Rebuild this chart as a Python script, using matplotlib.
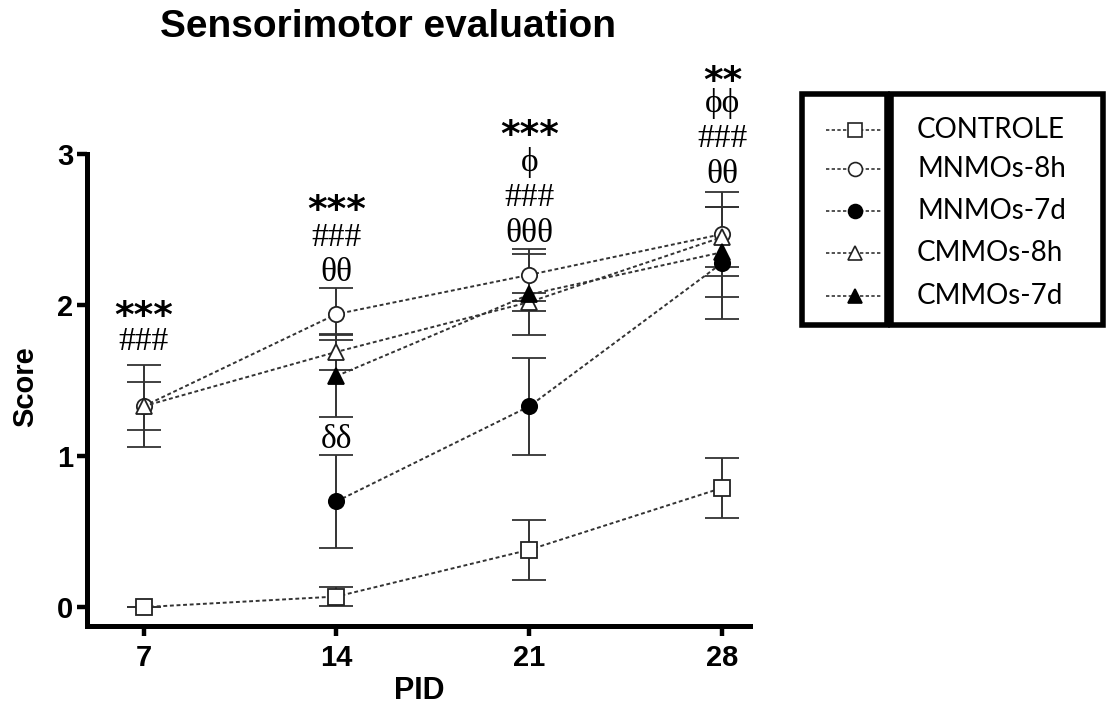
import matplotlib
matplotlib.use("Agg")
import matplotlib.pyplot as plt
import numpy as np
from matplotlib.patches import Rectangle

# days post induction
pid = [7, 14, 21, 28]

# mean score and error per group (nan = not measured)
controle = [0.0, 0.07, 0.38, 0.79]
controle_err = [0.0, 0.06, 0.20, 0.20]
mnmos_8h = [1.33, 1.94, 2.20, 2.47]
mnmos_8h_err = [0.16, 0.17, 0.17, 0.28]
mnmos_7d = [np.nan, 0.70, 1.33, 2.28]
mnmos_7d_err = [np.nan, 0.31, 0.32, 0.37]
cmmos_8h = [1.33, 1.69, 2.02, 2.45]
cmmos_8h_err = [0.27, 0.12, 0.06, 0.20]
cmmos_7d = [np.nan, 1.53, 2.07, 2.35]
cmmos_7d_err = [np.nan, 0.27, 0.27, 0.30]

labels = ["CONTROLE", "MNMOs-8h", "MNMOs-7d", "CMMOs-8h", "CMMOs-7d"]

# significance marks
star_marks = [(7, 1.92, "***"), (14, 2.62, "***"), (21, 3.12, "***"), (28, 3.48, "**")]
greek_marks = [(7, 1.76, "###"), (14, 2.33, "###\nθθ"), (21, 2.71, "ϕ\n###\nθθθ"),
               (28, 3.10, "ϕϕ\n###\nθθ"), (14, 1.11, "δδ")]

plt.rcParams["font.family"] = ["Liberation Sans", "DejaVu Sans"]

fig = plt.figure(figsize=(11.06, 7.08), dpi=100)
ax = fig.add_axes([87 / 1106, 1 - 626 / 708, (750 - 87) / 1106, (626 - 154) / 708])

styles = [
    dict(marker="s", mfc="white", mec="#222222"),
    dict(marker="o", mfc="white", mec="#222222"),
    dict(marker="o", mfc="black", mec="black"),
    dict(marker="^", mfc="white", mec="#222222"),
    dict(marker="^", mfc="black", mec="black"),
]
series = [(controle, controle_err), (mnmos_8h, mnmos_8h_err), (mnmos_7d, mnmos_7d_err),
          (cmmos_8h, cmmos_8h_err), (cmmos_7d, cmmos_7d_err)]

dash = (0, (2, 1.4))
for (vals, err), st in zip(series, styles):
    ax.errorbar(pid, vals, yerr=err, color="#333333", ls=dash, lw=1.4,
                ms=11, mew=1.3, elinewidth=1.4, capsize=12, capthick=1.4,
                ecolor="#333333", **st)

for x, y, txt in star_marks:
    ax.text(x, y, txt, ha="center", va="center", fontsize=27, fontweight="bold",
            family="DejaVu Sans", clip_on=False)
for x, y, txt in greek_marks:
    ax.text(x, y, txt, ha="center", va="center", fontsize=24, linespacing=1.2,
            family=["Liberation Serif", "DejaVu Serif"], clip_on=False)

ax.set_xlim(4.95, 29.0)
ax.set_ylim(-0.125, 3.0)
ax.set_xticks(pid)
ax.set_yticks([0, 1, 2, 3])
for side in ["top", "right"]:
    ax.spines[side].set_visible(False)
for side in ["left", "bottom"]:
    ax.spines[side].set_linewidth(3.6)
ax.tick_params(width=3.2, length=7, labelsize=21)
ax.tick_params(axis="x", pad=6)
ax.tick_params(axis="y", pad=3)
for lab in ax.get_xticklabels() + ax.get_yticklabels():
    lab.set_fontweight("bold")

fig.text(25 / 1106, 1 - 387 / 708, "Score", rotation=90, ha="center", va="center",
         fontsize=21, fontweight="bold")
fig.text(419 / 1106, 1 - 699 / 708, "PID", ha="center", va="baseline",
         fontsize=22, fontweight="bold")
fig.text(388 / 1106, 1 - 37 / 708, "Sensorimotor evaluation", ha="center", va="baseline",
         fontsize=28, fontweight="bold")

# legend drawn as two framed boxes
lg = fig.add_axes([800 / 1106, 1 - 327 / 708, 306 / 1106, 235 / 708])
lg.set_xlim(800, 1106)
lg.set_ylim(327, 92)
lg.axis("off")
lg.add_patch(Rectangle((802, 94), 85, 231, fill=False, lw=4, ec="black", clip_on=False))
lg.add_patch(Rectangle((891, 94), 212, 231, fill=False, lw=4, ec="black", clip_on=False))
rows = [130, 169, 211, 253, 296]
for yy, st, lab in zip(rows, styles, labels):
    lg.plot([826, 855, 881], [yy, yy, yy], color="#333333", ls=dash, lw=1.2,
            ms=10, mew=1.2, markevery=[1], **st)
    lg.text(917, yy, lab, ha="left", va="center", fontsize=20, family="Lato")

fig.savefig("out.png", dpi=100)
